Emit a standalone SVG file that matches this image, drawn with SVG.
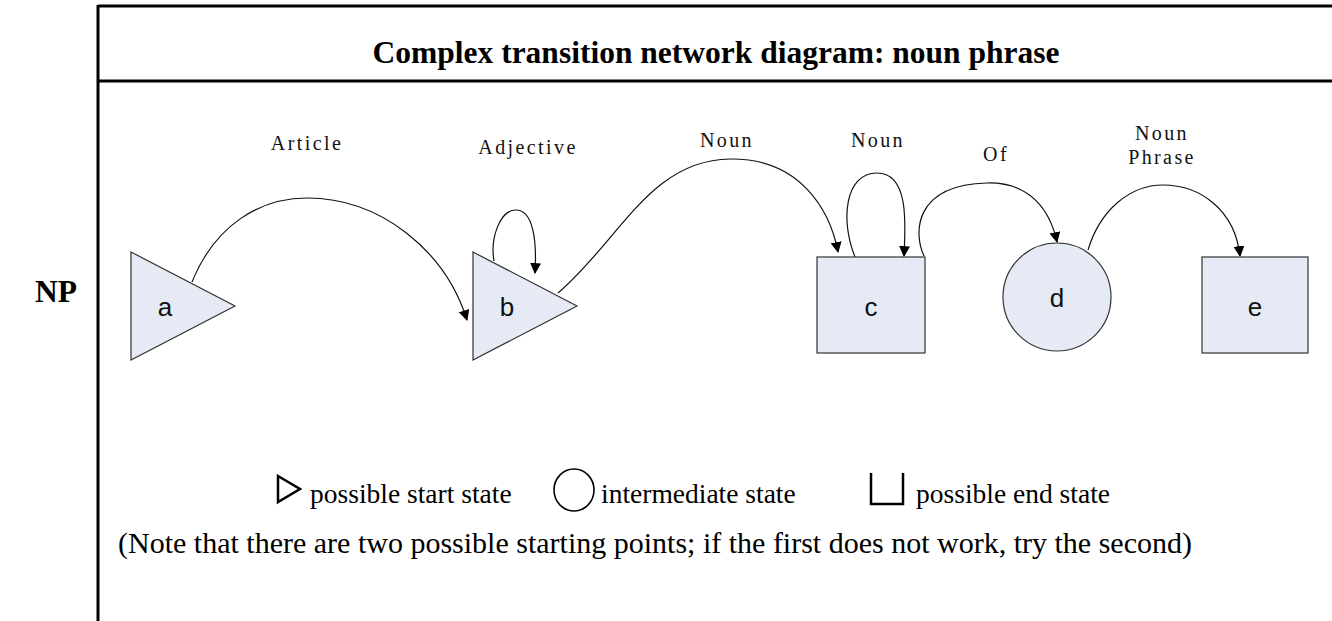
<svg xmlns="http://www.w3.org/2000/svg" width="1332" height="621" viewBox="0 0 1332 621">
  <defs>
    <marker id="arrow" viewBox="0 0 10 10" refX="9" refY="5" markerWidth="11" markerHeight="11" markerUnits="userSpaceOnUse" orient="auto">
      <path d="M0,0 L10,5 L0,10 Z" fill="#000"/>
    </marker>
    <style>
      .frame { stroke: #000; stroke-width: 3; fill: none; }
      .title { font-family: "Liberation Serif", "Times New Roman", serif; font-weight: bold; font-size: 31.5px; fill: #000; }
      .side { font-family: "Liberation Serif", "Times New Roman", serif; font-weight: bold; font-size: 31.5px; fill: #000; }
      .state { fill: #e6eaf4; stroke: #333; stroke-width: 1.2; }
      .state-label { font-family: "Liberation Sans", Arial, sans-serif; font-size: 26px; fill: #111; text-anchor: middle; }
      .edge { fill: none; stroke: #111; stroke-width: 1.2; marker-end: url(#arrow); }
      .edge-label { font-family: "Liberation Serif", "Times New Roman", serif; font-size: 20px; letter-spacing: 2.4px; fill: #111; text-anchor: middle; }
      .legend-shape { fill: none; stroke: #000; stroke-width: 2.5; }
      .legend-circle { fill: none; stroke: #000; stroke-width: 1.6; }
      .legend { font-family: "Liberation Serif", "Times New Roman", serif; font-size: 27.5px; fill: #000; }
      .note { font-family: "Liberation Serif", "Times New Roman", serif; font-size: 30px; fill: #000; text-anchor: middle; }
    </style>
  </defs>
  <rect width="1332" height="621" fill="#fff"/>

  <!-- table frame -->
  <g id="frame">
    <line class="frame" x1="98" y1="6" x2="1332" y2="6"/>
    <line class="frame" x1="98" y1="81" x2="1332" y2="81"/>
    <line class="frame" x1="98" y1="5" x2="98" y2="621"/>
  </g>

  <text class="title" x="716" y="63" text-anchor="middle">Complex transition network diagram: noun phrase</text>
  <text class="side" x="35" y="302">NP</text>

  <!-- transitions -->
  <g id="connectors">
    <path class="edge" d="M192,282 C215,225 260,198 307,198 C380,198 445,250 467,320"/>
    <path class="edge" d="M494,261 C490,238 500,210 516,210 C533,210 537,240 535,273"/>
    <path class="edge" d="M558,293 C620,240 650,160 730,159 C800,158 830,210 838,252"/>
    <path class="edge" d="M855,257 C840,220 845,173 877,173 C908,173 906,220 904,256"/>
    <path class="edge" d="M924,256 C914,235 912,185 987,183 C1030,182 1050,210 1057,242"/>
    <path class="edge" d="M1088,250 C1100,210 1130,185 1163,185 C1200,185 1235,210 1240,256"/>
  </g>

  <g id="node-a">
    <polygon class="state" points="131,252 235,306 131,360"/>
    <text class="state-label" x="165" y="316">a</text>
  </g>
  <g id="node-b">
    <polygon class="state" points="473,252 577,306 473,360"/>
    <text class="state-label" x="507" y="316">b</text>
  </g>
  <g id="node-c">
    <rect class="state" x="817" y="257" width="108" height="96"/>
    <text class="state-label" x="871" y="316">c</text>
  </g>
  <g id="node-d">
    <circle class="state" cx="1057" cy="297" r="54"/>
    <text class="state-label" x="1057" y="307">d</text>
  </g>
  <g id="node-e">
    <rect class="state" x="1202" y="257" width="106" height="96"/>
    <text class="state-label" x="1255" y="316">e</text>
  </g>

  <!-- transition labels -->
  <g id="labels">
    <text class="edge-label" x="307" y="150">Article</text>
    <text class="edge-label" x="528" y="154">Adjective</text>
    <text class="edge-label" x="727" y="147">Noun</text>
    <text class="edge-label" x="878" y="147">Noun</text>
    <text class="edge-label" x="996" y="161">Of</text>
    <text class="edge-label" x="1162" y="140">Noun</text>
    <text class="edge-label" x="1162" y="164">Phrase</text>
  </g>

  <!-- key -->
  <g id="legend">
    <polygon class="legend-shape" points="278,476 300,489 278,502"/>
    <text class="legend" x="310" y="503">possible start state</text>
    <ellipse class="legend-circle" cx="574" cy="490" rx="20" ry="21"/>
    <text class="legend" x="601" y="503">intermediate state</text>
    <polyline class="legend-shape" points="871,473 871,504 903,504 903,473"/>
    <text class="legend" x="916" y="503">possible end state</text>
    <text class="note" x="655" y="553">(Note that there are two possible starting points; if the first does not work, try the second)</text>
  </g>
</svg>
